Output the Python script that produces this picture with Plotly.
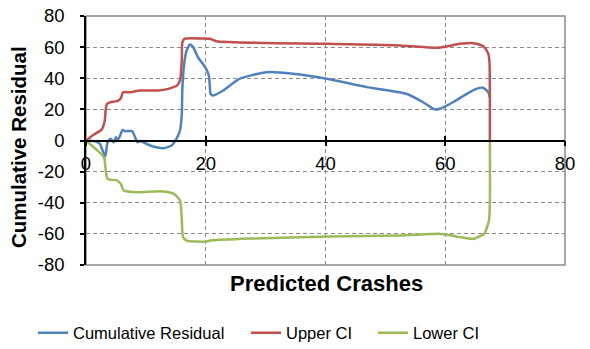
import plotly.graph_objects as go

# ---- data ----
resid_x = [0, 1.5, 2.3, 3.2, 3.6, 4.1, 4.6, 5.0, 5.25, 5.7, 6.1, 6.5, 7.7, 8.1, 8.6, 9.0, 10.7,
           12.9, 14.3, 15.1, 15.7, 16.0, 16.1, 16.4, 16.8, 17.4, 17.9, 18.7, 19.9, 20.5, 20.7,
           20.8, 21.3, 22.9, 25.7, 30.2, 34.6, 40.2, 46.9, 53.5, 56.3, 58.3, 59.1, 61.3, 63.6,
           65.2, 66.3, 67.2, 67.4]
resid_y = [0, -0.5, -2.1, -10.3, -1.1, 1.1, -1.1, 2.1, 0, 3.2, 6.8, 6.0, 6.0, 3.0, -1.1, -0.4, -3.2,
           -4.9, -3.2, 1.1, 6.4, 17.2, 34.3, 49.3, 57.8, 61.7, 60.0, 53.5, 47.1, 42.0, 34.0,
           30.0, 28.9, 32.1, 39.7, 43.9, 42.9, 39.7, 34.3, 30.0, 24.6, 19.9, 20.4, 24.6, 30.0,
           33.2, 33.9, 31.0, 28.0]

upper_x = [0, 1.2, 2.6, 3.1, 3.3, 3.5, 4.0, 5.2, 5.8, 6.2, 7.5, 8.6, 9.0, 12.0, 13.6, 14.6,
           15.2, 15.7, 16.0, 16.1, 16.5, 20.2, 20.7, 21.8, 40.2, 52.4, 58.5, 60.2, 62.4, 63.6,
           64.7, 65.8, 66.5, 67.2, 67.4, 67.45, 67.45]
upper_y = [0, 3.5, 7.0, 12.0, 20.0, 23.5, 24.5, 25.3, 27.0, 31.0, 31.0, 32.0, 32.1, 32.2, 33.0,
           34.3, 35.3, 38.6, 51.4, 63.2, 65.4, 65.4, 65.4, 63.8, 62.1, 61.1, 59.6, 60.4, 62.1,
           62.5, 62.5, 61.5, 60.0, 55.7, 49.3, 25.0, 0]

lower_x = [0, 1.9, 3.0, 3.3, 3.6, 5.2, 5.8, 6.3, 8.6, 12.5, 14.7, 15.7, 16.0, 16.2, 16.8,
           20.2, 20.7, 27.4, 40.7, 52.4, 59.1, 60.2, 62.4, 64.7, 65.8, 66.5, 67.3, 67.45, 67.45]
lower_y = [0, -6.4, -10.7, -19.3, -24.6, -25.7, -27.8, -32.1, -33.2, -32.6, -34.3, -38.6, -51.0,
           -62.1, -64.3, -64.9, -64.3, -63.0, -61.7, -61.0, -60.0, -60.4, -62.1, -63.2, -61.5,
           -60.0, -51.4, -40.0, 0]

x_ticks = [0, 20, 40, 60, 80]
y_ticks = [-80, -60, -40, -20, 0, 20, 40, 60, 80]

FONT = "Arial, Liberation Sans, sans-serif"
GRID = "#8a8a8a"

fig = go.Figure()
series = [
    ("Cumulative Residual", resid_x, resid_y, "#4F81BD", "legend", 33),
    ("Upper CI", upper_x, upper_y, "#C0504D", "legend2", 246),
    ("Lower CI", lower_x, lower_y, "#9BBB59", "legend3", 373),
]
legend_cfg = {}
for name, xs, ys, col, leg, lx in series:
    fig.add_trace(go.Scatter(x=xs, y=ys, name=name, mode="lines", legend=leg,
                             line=dict(color=col, width=2.5, shape="spline", smoothing=0.6)))
    legend_cfg[leg] = dict(orientation="h", xref="container", yref="container",
                           x=lx / 590, xanchor="left", y=1 - 333 / 349, yanchor="middle",
                           font=dict(size=16.5, family=FONT), itemwidth=30,
                           bgcolor="rgba(0,0,0,0)")

# dummy trace for the inner tick marks on the zero line axis
fig.add_trace(go.Scatter(x=[None], y=[None], xaxis="x2", showlegend=False, hoverinfo="skip"))

fig.update_layout(
    width=590, height=349,
    margin=dict(l=86, r=25, t=16, b=84, autoexpand=False),
    paper_bgcolor="white", plot_bgcolor="white",
    font=dict(family=FONT, size=16, color="black"),
    showlegend=True,
    **legend_cfg,
    xaxis=dict(range=[0, 80], tickvals=x_ticks, ticktext=[str(v) for v in x_ticks],
               showgrid=True, gridcolor=GRID, griddash="4px,3px", gridwidth=1,
               showline=True, linecolor="black", linewidth=1.5,
               anchor="free", position=0.5, automargin=False,
               ticks="outside", ticklen=5, tickcolor="black", tickwidth=1.5,
               ticklabelstandoff=2, zeroline=False,
               tickfont=dict(size=18.5)),
    xaxis2=dict(range=[0, 80], tickvals=x_ticks, overlaying="x", anchor="free", position=0.5,
                showgrid=False, showline=False, ticks="inside", ticklen=5, tickcolor="black",
                tickwidth=1.5, showticklabels=False, zeroline=False, automargin=False),
    yaxis=dict(range=[-80, 80], tickvals=y_ticks, ticktext=[str(v) for v in y_ticks],
               showgrid=True, gridcolor=GRID, griddash="4px,3px", gridwidth=1,
               showline=True, linecolor="black", linewidth=1.5, automargin=False,
               ticks="outside", ticklen=4, tickcolor="black", tickwidth=1.5,
               ticklabelstandoff=12, zeroline=False, tickfont=dict(size=18.5)),
    shapes=[dict(type="rect", xref="paper", yref="paper", x0=0, x1=1, y0=0, y1=1,
                 line=dict(color="#8a8a8a", width=1.5), layer="below")],
    annotations=[
        dict(text="<b>Predicted Crashes</b>", xref="paper", yref="paper", x=(326 - 86) / 479,
             y=(265 - 283) / 249, xanchor="center", yanchor="middle", showarrow=False,
             font=dict(size=22, family=FONT)),
        dict(text="<b>Cumulative Residual</b>", xref="paper", yref="paper", x=(18 - 86) / 479,
             y=(265 - 147) / 249, xanchor="center", yanchor="middle", textangle=-90,
             showarrow=False, font=dict(size=20.5, family=FONT)),
    ],
)

fig.write_html("out.html")
